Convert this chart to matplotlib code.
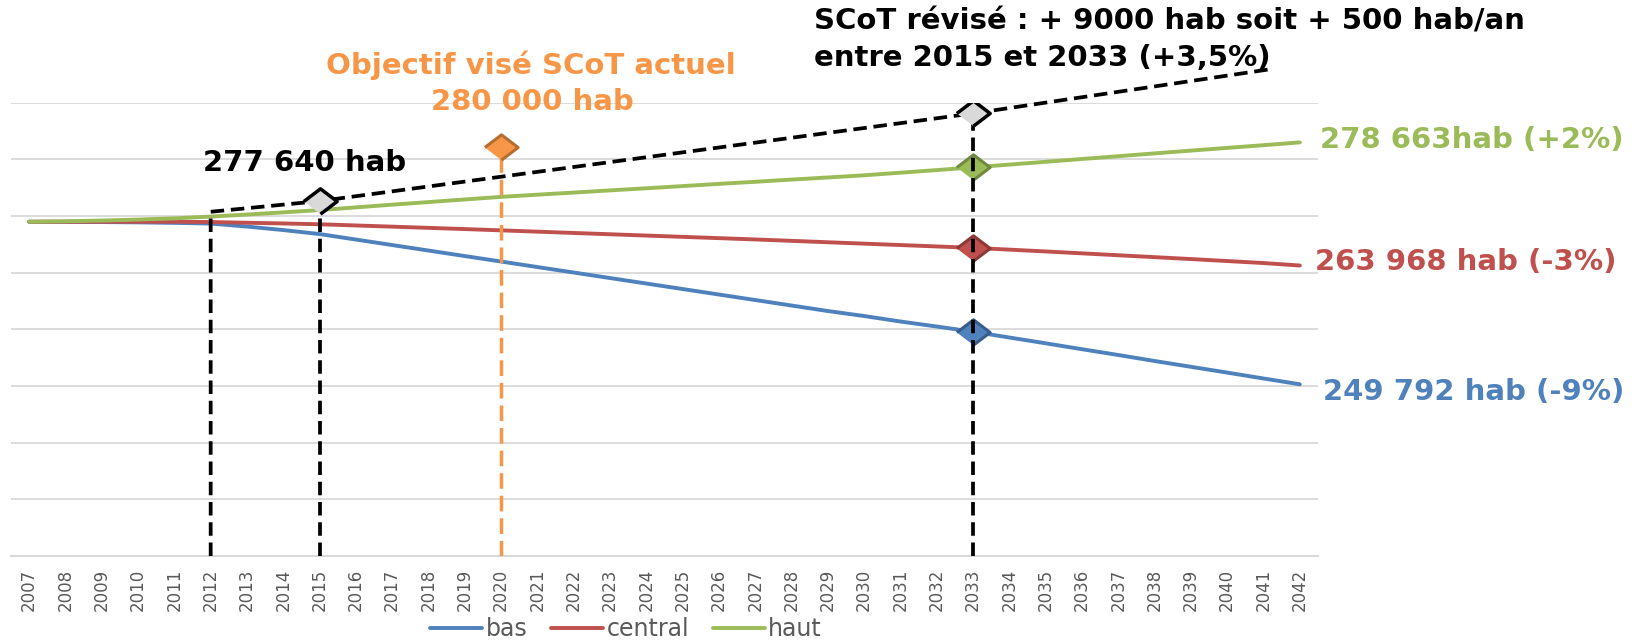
import numpy as np
import matplotlib
matplotlib.use('Agg')
import matplotlib.pyplot as plt

# population projections (hab), one value per year 2007-2042
years = list(range(2007, 2043))
bas = [269190, 269178, 269155, 269119, 269059, 268976, 268618, 268200, 267723, 267067,
       266411, 265754, 265098, 264442, 263786, 263130, 262474, 261818, 261161, 260505,
       259849, 259193, 258537, 257940, 257284, 256688, 256067, 255375, 254683, 253980,
       253288, 252572, 251880, 251188, 250484, 249792]
central = [269190, 269190, 269190, 269190, 269190, 269155, 269071, 268987, 268892, 268749,
           268606, 268463, 268319, 268164, 268009, 267854, 267699, 267544, 267389, 267234,
           267079, 266912, 266745, 266578, 266411, 266244, 266077, 265862, 265647, 265420,
           265194, 264967, 264740, 264502, 264263, 263968]
haut = [269190, 269250, 269333, 269453, 269596, 269811, 270049, 270312, 270586, 270908,
        271230, 271541, 271851, 272161, 272423, 272674, 272936, 273187, 273449, 273712,
        273962, 274225, 274475, 274738, 275048, 275358, 275680, 276014, 276348, 276682,
        277016, 277350, 277684, 278007, 278329, 278663]

# SCoT revise trajectory (hand drawn on the chart) and current SCoT target
scot_rev_x = [2012, 2015, 2033, 2041.2]
scot_rev_y = [270383, 271660, 282122, 287407]
obj_x = 2020
obj_y = 278138
mark_year = 2033

c_bas, c_central, c_haut = '#4F81BD', '#C0504D', '#9BBB59'
c_orange = '#F79646'

ylo, yhi = 229300, 283400

fig = plt.figure(figsize=(16.4, 6.42), dpi=100)
W, H = 1640, 642
def fx(x): return x / W
def fy(y): return 1 - y / H

ax = fig.add_axes([fx(11), fy(556), 1307 / W, 453.3 / H])
ax.set_xlim(2006.5, 2042.5)
ax.set_ylim(ylo, yhi)

ax.plot(years, bas, color=c_bas, lw=2.8, solid_capstyle='round', label='bas', zorder=3)
ax.plot(years, central, color=c_central, lw=2.8, solid_capstyle='round', label='central', zorder=3)
ax.plot(years, haut, color=c_haut, lw=2.8, solid_capstyle='round', label='haut', zorder=3)

diam = [(-1, 0), (0, 0.76), (1, 0), (0, -0.76)]
i33 = years.index(mark_year)
for vals, fc, ec in [(haut, c_haut, '#71893F'), (central, c_central, '#8C3836'), (bas, c_bas, '#385D8A')]:
    ax.plot(mark_year, vals[i33], marker=diam, ms=24, mfc=fc, mec=ec, mew=2.2, zorder=4)

# black dashed SCoT revise lines
dash = (0, (3.6, 1.8))
ax.plot([scot_rev_x[0]] + scot_rev_x, [ylo] + scot_rev_y, color='black', lw=2.7, ls=dash,
        zorder=5, clip_on=False)
for xv, yv in zip(scot_rev_x[1:3], scot_rev_y[1:3]):
    ax.plot([xv, xv], [ylo, yv], color='black', lw=2.7, ls=dash, zorder=5)
ax.plot(scot_rev_x[1:3], scot_rev_y[1:3], ls='none', marker=diam, ms=24, mfc='#D9D9D9',
        mec='black', mew=2.5, zorder=6)

# orange current objective
ax.plot([obj_x, obj_x], [ylo, obj_y], color=c_orange, lw=2.5, ls=(0, (4.5, 2)), zorder=5)
ax.plot(obj_x, obj_y, marker=diam, ms=24, mfc=c_orange, mec='#B66D31', mew=2.2, zorder=6)

ax.set_yticks(np.linspace(ylo, yhi, 9))
ax.yaxis.grid(True, color='#D9D9D9', lw=1.3)
ax.set_axisbelow(True)
ax.tick_params(axis='y', length=0, labelleft=False)
for s in ['top', 'left', 'right']:
    ax.spines[s].set_visible(False)
ax.spines['bottom'].set_color('#D9D9D9')
ax.spines['bottom'].set_linewidth(1.5)
ax.set_xticks(years)
ax.set_xticklabels([str(y) for y in years], rotation=90, fontsize=12, color='#595959')
ax.tick_params(axis='x', length=0, pad=9)

fig.legend(loc='center', bbox_to_anchor=(fx(626), fy(629)), ncol=3, frameon=False,
           fontsize=17, handlelength=2.2, handletextpad=0.15, columnspacing=1.0,
           labelcolor='#595959')

tk = dict(fontsize=21, fontweight='bold', va='center')
fig.text(fx(814), fy(21), 'SCoT révisé : + 9000 hab soit + 500 hab/an', color='black', ha='left', **tk)
fig.text(fx(814), fy(58), 'entre 2015 et 2033 (+3,5%)', color='black', ha='left', **tk)
fig.text(fx(531), fy(65), 'Objectif visé SCoT actuel', color=c_orange, ha='center', **tk)
fig.text(fx(532), fy(102), '280 000 hab', color=c_orange, ha='center', **tk)
fig.text(fx(305), fy(163), '277 640 hab', color='black', ha='center', **tk)
fig.text(fx(1320), fy(140), '278 663hab (+2%)', color=c_haut, ha='left', **tk)
fig.text(fx(1315), fy(262), '263 968 hab (-3%)', color=c_central, ha='left', **tk)
fig.text(fx(1323), fy(392), '249 792 hab (-9%)', color=c_bas, ha='left', **tk)

fig.savefig('out.png', dpi=100)
